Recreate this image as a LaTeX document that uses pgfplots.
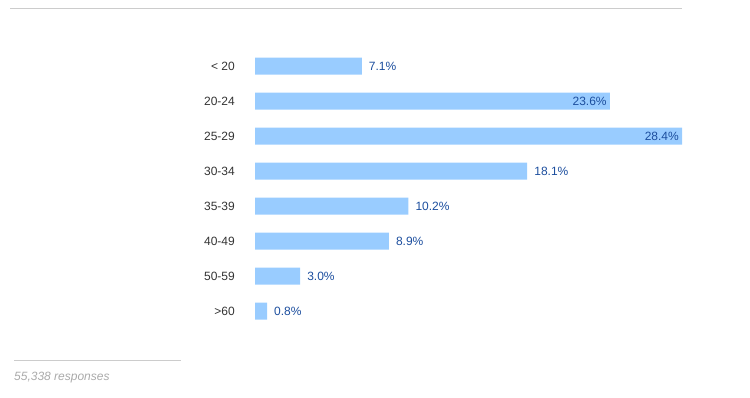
\documentclass[border=0pt]{standalone}
\usepackage{pgfplots}
\pgfplotsset{compat=1.18}
\usepackage{fontspec}
\setmainfont{Liberation Sans}
\definecolor{barc}{HTML}{99CCFF}
\definecolor{valc}{HTML}{1C4E9E}
\definecolor{catc}{HTML}{333333}
\definecolor{linec}{HTML}{CCCCCC}
\definecolor{respc}{HTML}{AAAAAA}
\begin{document}
\begin{tikzpicture}[x=1bp,y=1bp]
\path (0,0) rectangle (750,397);
\draw[color=linec, line width=1bp] (10,388) -- (682,388);
\draw[color=linec, line width=1bp] (14,37) -- (181,37);
\node[anchor=west, inner sep=0pt, text=respc, font=\itshape\fontsize{12bp}{14bp}\selectfont] at (14,19) {55,338 responses};
\begin{axis}[
  at={(255bp,68.5bp)}, anchor=south west,
  scale only axis, width=427bp, height=280bp,
  xmin=0, xmax=28.4, ymin=-0.5, ymax=7.5, y dir=reverse,
  axis line style={draw=none}, tick style={draw=none},
  major tick length=0pt,
  xtick=\empty,
  ytick={0,1,2,3,4,5,6,7},
  yticklabels={{< 20},{20-24},{25-29},{30-34},{35-39},{40-49},{50-59},{>60}},
  yticklabel style={anchor=east, inner sep=0pt, xshift=-20bp, text=catc, font=\fontsize{12bp}{14bp}\selectfont},
  clip=false,
  point meta=x,
  /pgf/number format/assume math mode=true,
  nodes near coords={\pgfmathprintnumber[fixed,fixed zerofill,precision=1,assume math mode=true]{\pgfplotspointmeta}\%},
]
\addplot[xbar, fill=barc, draw=none, bar width=17bp, bar shift=0pt,
  nodes near coords style={anchor=west, inner sep=0pt, xshift=7bp, text=valc, font=\fontsize{12bp}{14bp}\selectfont}]
  coordinates {(7.1,0) (18.1,3) (10.2,4) (8.9,5) (3.0,6) (0.8,7)};
\addplot[xbar, fill=barc, draw=none, bar width=17bp, bar shift=0pt,
  nodes near coords style={anchor=east, inner sep=0pt, xshift=-3bp, text=valc, font=\fontsize{12bp}{14bp}\selectfont}]
  coordinates {(23.6,1) (28.4,2)};
\end{axis}
\end{tikzpicture}
\end{document}
